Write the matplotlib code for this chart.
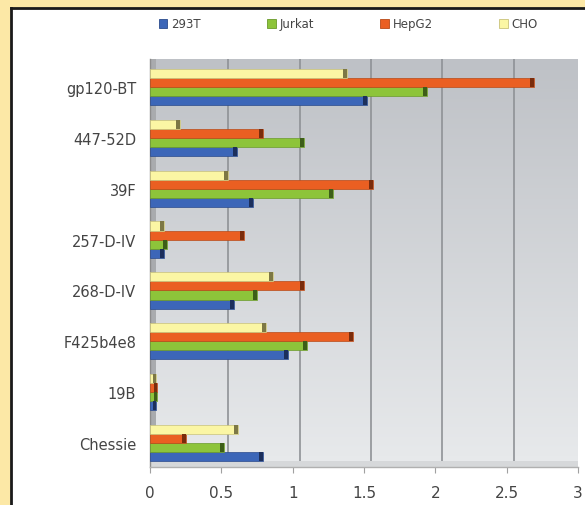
import numpy as np
import matplotlib
matplotlib.use("Agg")
import matplotlib.pyplot as plt
import matplotlib.transforms as mtransforms
from matplotlib.patches import Rectangle, Patch
from matplotlib.lines import Line2D

# Cell lines (listed top to bottom as drawn)
categories = ["gp120-BT", "447-52D", "39F", "257-D-IV", "268-D-IV", "F425b4e8", "19B", "Chessie"]
series_names = ["293T", "Jurkat", "HepG2", "CHO"]
vals_293t = [1.52, 0.61, 0.72, 0.10, 0.59, 0.97, 0.04, 0.79]
vals_jurkat = [1.94, 1.08, 1.28, 0.12, 0.75, 1.10, 0.05, 0.52]
vals_hepg2 = [2.69, 0.79, 1.56, 0.66, 1.08, 1.42, 0.05, 0.25]
vals_cho = [1.38, 0.21, 0.55, 0.10, 0.86, 0.81, 0.04, 0.62]
x_ticks = [0, 0.5, 1, 1.5, 2, 2.5, 3]
x_tick_labels = ["0", "0.5", "1", "1.5", "2", "2.5", "3"]

face_colors = ["#3c66b8", "#8dc43a", "#ea5f22", "#fbf6a4"]
edge_colors = ["#2a4a8c", "#6a9a2a", "#b84a18", "#c9c27a"]
cap_colors = ["#1c2f5c", "#3d5e18", "#7a2c0c", "#7d7845"]
series = [vals_293t, vals_jurkat, vals_hepg2, vals_cho]

W, H, DPI = 585, 506, 100
fig = plt.figure(figsize=(W / DPI, H / DPI), dpi=DPI)
fig.patch.set_facecolor("#fce8a6")

# white panel with dark frame on left and top
fig.add_artist(Rectangle((11 / W, 0), 1, 1 - 9 / H, transform=fig.transFigure,
                         facecolor="white", edgecolor="none", zorder=0))
fig.add_artist(Line2D([11 / W, 11 / W], [0, 1 - 9 / H], transform=fig.transFigure,
                      color="#1a1a1a", lw=2.0, zorder=1))
fig.add_artist(Line2D([11 / W, 1], [1 - 9 / H, 1 - 9 / H], transform=fig.transFigure,
                      color="#1a1a1a", lw=2.0, zorder=1))

ax_left, ax_right, ax_top, ax_bottom = 150, 578, 60, 468
ax = fig.add_axes([ax_left / W, 1 - ax_bottom / H, (ax_right - ax_left) / W, (ax_bottom - ax_top) / H])
ax.set_facecolor("none")

n = len(categories)
y = np.arange(n)[::-1].astype(float)
h = 0.178
offsets = [-1.5 * h, -0.5 * h, 0.5 * h, 1.5 * h]

ax.set_xlim(0, 3)
ax.set_ylim(-0.47, n - 1 + 0.55)

# gradient back wall
grad = np.linspace(0, 1, 256).reshape(-1, 1)
top_c = np.array([190, 193, 198]) / 255
bot_c = np.array([232, 234, 236]) / 255
img = top_c * (1 - grad[..., None]) + bot_c * grad[..., None]
img = np.repeat(img, 2, axis=1)
ax.imshow(img, extent=[0, 1, 0, 1], transform=ax.transAxes, aspect="auto", zorder=0)

# back-wall gridlines (shifted for depth)
shift = mtransforms.ScaledTranslation(7 / DPI, 0, fig.dpi_scale_trans)
for xt in x_ticks[1:]:
    ax.add_line(Line2D([xt, xt], [0, 1], color="#8f9296", lw=1.2, zorder=1,
                       transform=ax.get_xaxis_transform() + shift))

# left wall and floor
ax.add_patch(Rectangle((0, 0), 6 / (ax_right - ax_left), 1, transform=ax.transAxes,
                       facecolor="#a9abae", edgecolor="none", zorder=1))
ax.add_patch(Rectangle((0, 0), 1, 6 / (ax_bottom - ax_top), transform=ax.transAxes,
                       facecolor="#d6d8da", edgecolor="none", zorder=1))

cap = 0.028
for vals, off, fc, ec, cc, name in zip(series, offsets, face_colors, edge_colors, cap_colors, series_names):
    vals = np.asarray(vals)
    ax.barh(y + off, vals, height=h, color=fc, edgecolor=ec, linewidth=0.5, zorder=3, label=name)
    cw = np.minimum(cap, vals * 0.5)
    ax.barh(y + off, cw, left=vals - cw, height=h, color=cc, edgecolor="none", zorder=4)

for s in ["top", "right"]:
    ax.spines[s].set_visible(False)
ax.spines["left"].set_color("#8c8c8c")
ax.spines["bottom"].set_color("#b0b0b0")
ax.spines["left"].set_linewidth(1.0)
ax.spines["bottom"].set_linewidth(1.0)

font = ["DejaVu Sans"]
ax.set_yticks(y)
ax.set_yticklabels(categories, fontsize=10.5, color="#444444", family=font)
ax.set_xticks(x_ticks)
ax.set_xticklabels(x_tick_labels, fontsize=11, color="#444444", family=font)
ax.tick_params(axis="y", length=0, pad=10)
ax.tick_params(axis="x", length=4, color="#a0a0a0", pad=9)

handles = [Patch(facecolor=fc, edgecolor=ec, linewidth=0.6) for fc, ec in zip(face_colors, edge_colors)]
fig.legend(handles, series_names, loc="lower left", ncol=4, mode="expand",
           bbox_to_anchor=(148 / W, 1 - 42 / H, (548 - 148) / W, 18 / H),
           frameon=False, prop={"family": font, "size": 8.5}, handlelength=0.75,
           handleheight=0.75, handletextpad=0.3, labelcolor="#444444")

fig.savefig("out.png", dpi=DPI)
